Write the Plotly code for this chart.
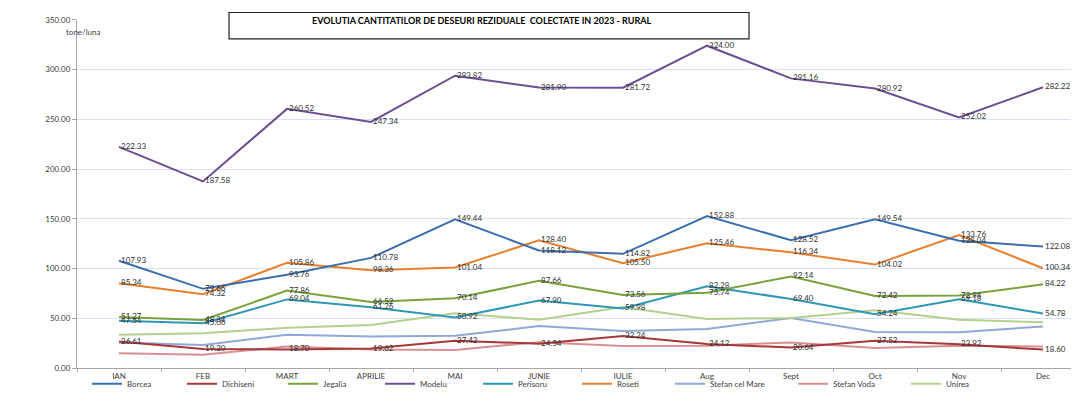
import plotly.graph_objects as go

# browser window size and page offset (default body margin)
WIN_W, WIN_H = 1079, 417
OFF = 8
W, H = WIN_W - OFF, WIN_H - OFF


def px(x):
    return (x - OFF) / W


def py(y):
    return 1 - (y - OFF) / H


months = ["IAN", "FEB", "MART", "APRILIE", "MAI", "JUNIE", "IULIE", "Aug", "Sept", "Oct", "Nov", "Dec"]

borcea = [107.93, 79.66, 93.76, 110.78, 149.44, 118.12, 114.82, 152.88, 128.52, 149.54, 128.04, 122.08]
dichiseni = [26.61, 19.20, 18.70, 19.62, 27.42, 24.54, 32.24, 24.12, 20.64, 27.52, 23.92, 18.60]
jegalia = [51.27, 48.34, 77.86, 66.52, 70.14, 87.66, 73.56, 75.74, 92.14, 72.42, 72.94, 84.22]
modelu = [222.33, 187.58, 260.52, 247.34, 293.82, 281.90, 281.72, 324.00, 291.16, 280.92, 252.02, 282.22]
perisoru = [47.54, 45.06, 69.04, 61.26, 50.92, 67.90, 59.98, 82.28, 69.40, 54.24, 69.18, 54.78]
roseti = [85.34, 74.32, 105.86, 98.36, 101.04, 128.40, 105.50, 125.46, 116.34, 104.02, 133.76, 100.34]
stefan_cel_mare = [25.8, 23.2, 33.6, 31.7, 32.4, 42.2, 37.3, 39.2, 50.3, 36.3, 36.0, 41.8]
stefan_voda = [15.0, 13.4, 21.6, 18.6, 18.3, 26.1, 22.2, 22.5, 25.8, 20.3, 22.5, 21.6]
unirea = [33.6, 35.0, 40.5, 43.4, 55.2, 48.7, 61.5, 49.3, 50.3, 58.1, 48.7, 46.1]

series = [
    ("Borcea", borcea, "#3b6eae", True, 127),
    ("Dichiseni", dichiseni, "#a8373a", True, 222),
    ("Jegalia", jegalia, "#78a23c", True, 323),
    ("Modelu", modelu, "#6c4f92", True, 420),
    ("Perisoru", perisoru, "#2e97b5", True, 518),
    ("Roseti", roseti, "#e8802f", True, 617),
    ("Stefan cel Mare", stefan_cel_mare, "#8fa9d8", False, 710),
    ("Stefan Voda", stefan_voda, "#d99090", False, 833),
    ("Unirea", unirea, "#b5d08e", False, 946),
]

title_text = "EVOLUTIA CANTITATILOR DE DESEURI REZIDUALE  COLECTATE IN 2023 - RURAL"
FONT = "Lato, Liberation Sans, sans-serif"

fig = go.Figure()
layout_legends = {}
names = [s[0] for s in series]
for i, (name, vals, color, labeled, text_x) in enumerate(series):
    key = "legend" if i == 0 else f"legend{i+1}"
    layout_legends[key] = dict(
        x=(text_x - 40 - OFF) / W, xanchor="left",
        y=py(388), yanchor="middle",
        bgcolor="rgba(0,0,0,0)", borderwidth=0,
        font=dict(family=FONT, size=8, color="#404040"),
        itemwidth=30, tracegroupgap=0,
    )

draw_order = ["Stefan Voda", "Stefan cel Mare", "Unirea", "Dichiseni", "Perisoru", "Jegalia", "Roseti", "Borcea", "Modelu"]
for name in draw_order:
    idx = names.index(name)
    _, vals, color, labeled, _ = series[idx]
    key = "legend" if idx == 0 else f"legend{idx+1}"
    fig.add_trace(go.Scatter(
        x=months, y=vals, name=name,
        mode="lines+text" if labeled else "lines",
        line=dict(color=color, width=2),
        text=["\u00a0" + f"{v:.2f}" for v in vals] if labeled else None,
        textposition="middle right",
        textfont=dict(family=FONT, size=8, color="#303030"),
        legend=key,
        hoverinfo="x+y+name",
        cliponaxis=False,
    ))

fig.update_layout(
    width=W, height=H,
    margin=dict(l=0, r=0, t=0, b=0),
    paper_bgcolor="white", plot_bgcolor="white",
    showlegend=True,
    font=dict(family=FONT, size=8, color="#404040"),
    xaxis=dict(
        domain=[px(77), 1],
        range=[-0.5, 11.5 - 6 / 84],
        type="category",
        showgrid=False,
        showline=True, linecolor="#a6a6a6", linewidth=1,
        ticks="outside", ticklen=3, tickcolor="#a6a6a6",
        tickson="boundaries",
        tickfont=dict(family=FONT, size=8, color="#404040"),
        fixedrange=True,
    ),
    yaxis=dict(
        domain=[py(372), py(15)],
        range=[0, 350],
        dtick=50,
        tickformat=".2f",
        showgrid=True, gridcolor="#d7e1ef", gridwidth=1,
        showline=True, linecolor="#a6a6a6", linewidth=1,
        ticks="outside", ticklen=4, tickcolor="#a6a6a6",
        tickfont=dict(family=FONT, size=8, color="#404040"),
        zeroline=False,
        fixedrange=True,
    ),
    **layout_legends,
)

fig.add_shape(type="rect", xref="paper", yref="paper",
              x0=px(6), x1=1.02, y0=-0.02, y1=py(1.5),
              line=dict(color="#222222", width=1.5), fillcolor="rgba(0,0,0,0)", layer="above")
fig.add_shape(type="rect", xref="paper", yref="paper",
              x0=px(229), x1=px(749), y0=py(34.5), y1=py(7.5),
              line=dict(color="#222222", width=1.2), fillcolor="white", layer="above")
fig.add_annotation(xref="paper", yref="paper", x=px(482), y=py(16),
                   text=f"<b>{title_text}</b>", showarrow=False,
                   font=dict(family=FONT, size=9, color="#000000"),
                   xanchor="center", yanchor="middle")
fig.add_annotation(xref="paper", yref="paper", x=px(83), y=py(27),
                   text="tone/luna", showarrow=False,
                   font=dict(family=FONT, size=8, color="#404040"),
                   xanchor="center", yanchor="middle")

fig.write_html("out.html")
